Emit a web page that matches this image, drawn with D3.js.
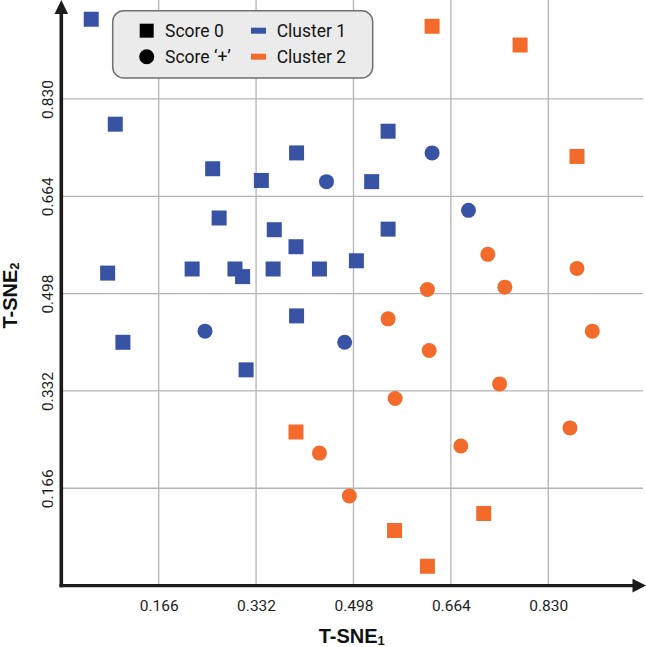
<!DOCTYPE html>
<html>
<head>
<meta charset="utf-8">
<script src="https://cdn.jsdelivr.net/npm/d3@7"></script>
<style>
  html, body { margin: 0; padding: 0; background: #fff; }
  svg { display: block; }
</style>
</head>
<body>
<svg id="chart" width="646" height="647"></svg>
<script>
// ---- Data ----
const tickValues = [0.166, 0.332, 0.498, 0.664, 0.830];
const tickLabels = ["0.166", "0.332", "0.498", "0.664", "0.830"];

const cluster1Score0 = [
  [0.051, 0.966], [0.092, 0.787], [0.258, 0.711], [0.341, 0.691], [0.401, 0.738],
  [0.557, 0.775], [0.529, 0.689], [0.269, 0.627], [0.363, 0.607], [0.400, 0.578],
  [0.557, 0.608], [0.079, 0.533], [0.223, 0.540], [0.296, 0.540], [0.309, 0.527],
  [0.361, 0.540], [0.440, 0.540], [0.503, 0.554], [0.401, 0.460], [0.105, 0.415],
  [0.315, 0.368]
];
const cluster1ScorePlus = [
  [0.452, 0.689], [0.632, 0.738], [0.694, 0.640], [0.245, 0.434], [0.483, 0.415]
];
const cluster2Score0 = [
  [0.632, 0.954], [0.782, 0.922], [0.879, 0.732], [0.400, 0.262], [0.720, 0.123],
  [0.568, 0.094], [0.624, 0.033]
];
const cluster2ScorePlus = [
  [0.727, 0.565], [0.624, 0.505], [0.756, 0.509], [0.879, 0.541], [0.557, 0.455],
  [0.627, 0.401], [0.905, 0.434], [0.747, 0.344], [0.569, 0.319], [0.867, 0.269],
  [0.681, 0.238], [0.440, 0.226], [0.491, 0.153]
];

const clusterNames = ["Cluster 1", "Cluster 2"];
const clusterColors = ["#3953a4", "#f26b2b"];
const scoreNames = ["Score 0", "Score \u2018+\u2019"];

// ---- Chart ----
const svg = d3.select("#chart");
const x = d3.scaleLinear().domain([0, 1]).range([61.3, 648.0]);
const y = d3.scaleLinear().domain([0, 1]).range([585.6, -0.7]);
const x0 = x(0), y0 = y(0);

// grid
const grid = svg.append("g");
grid.selectAll(".vg").data(tickValues).join("line")
  .attr("x1", d => x(d)).attr("x2", d => x(d))
  .attr("y1", 0).attr("y2", y0)
  .attr("stroke", "#b4b4b4").attr("stroke-width", 1.3);
grid.selectAll(".hg").data(tickValues).join("line")
  .attr("x1", x0).attr("x2", 643)
  .attr("y1", d => y(d)).attr("y2", d => y(d))
  .attr("stroke", "#b4b4b4").attr("stroke-width", 1.3);

// points
const size = 15;
const groups = [
  { pts: cluster1Score0, c: 0, shape: "square" },
  { pts: cluster1ScorePlus, c: 0, shape: "circle" },
  { pts: cluster2Score0, c: 1, shape: "square" },
  { pts: cluster2ScorePlus, c: 1, shape: "circle" }
];
const pg = svg.append("g");
groups.forEach(g => {
  if (g.shape === "square") {
    pg.selectAll(null).data(g.pts).join("rect")
      .attr("x", d => x(d[0]) - size / 2).attr("y", d => y(d[1]) - size / 2)
      .attr("width", size).attr("height", size)
      .attr("fill", clusterColors[g.c]);
  } else {
    pg.selectAll(null).data(g.pts).join("circle")
      .attr("cx", d => x(d[0])).attr("cy", d => y(d[1]))
      .attr("r", size / 2)
      .attr("fill", clusterColors[g.c]);
  }
});

// x axis tick labels via d3 axis
const xAxis = d3.axisBottom(x).tickValues(tickValues)
  .tickFormat((d, i) => tickLabels[i]).tickSize(0).tickPadding(14);
const gx = svg.append("g").attr("transform", `translate(0,${y0})`).call(xAxis);
gx.select(".domain").remove();
gx.selectAll("text").attr("font-family", "Roboto, sans-serif")
  .attr("font-size", 15.5).attr("fill", "#1e1e1e");

// y axis tick labels (rotated)
const yAxis = d3.axisLeft(y).tickValues(tickValues)
  .tickFormat((d, i) => tickLabels[i]).tickSize(0);
const gy = svg.append("g").attr("transform", `translate(${x0},0)`).call(yAxis);
gy.select(".domain").remove();
gy.selectAll(".tick text")
  .attr("x", null).attr("dy", null)
  .attr("text-anchor", "middle")
  .attr("transform", `translate(${52.5 - x0},0) rotate(-90)`)
  .attr("font-family", "Roboto, sans-serif")
  .attr("font-size", 15.5).attr("fill", "#1e1e1e");

// axis lines with arrows
const axisColor = "#1c1c1c";
svg.append("line").attr("x1", x0).attr("x2", x0).attr("y1", y0 + 1.7).attr("y2", 12)
  .attr("stroke", axisColor).attr("stroke-width", 3.6);
svg.append("path").attr("d", `M${x0},0 L${x0 - 6.8},14 L${x0 + 6.8},14 Z`).attr("fill", axisColor);
svg.append("line").attr("x1", x0 - 1.8).attr("x2", 636).attr("y1", y0).attr("y2", y0)
  .attr("stroke", axisColor).attr("stroke-width", 3.4);
svg.append("path").attr("d", `M646,${y0} L632.5,${y0 - 6.8} L632.5,${y0 + 6.8} Z`).attr("fill", axisColor);

// axis titles
const xt = svg.append("text").attr("x", 351.7).attr("y", 643.3)
  .attr("text-anchor", "middle")
  .attr("font-family", "'Liberation Sans', Arial, sans-serif")
  .attr("font-weight", "bold").attr("font-size", 20).attr("fill", "#111");
xt.append("tspan").text("T-SNE");
xt.append("tspan").attr("font-size", 13).attr("dy", 2).text("1");

const yt = svg.append("text")
  .attr("transform", "translate(17,295.5) rotate(-90)")
  .attr("text-anchor", "middle")
  .attr("font-family", "'Liberation Sans', Arial, sans-serif")
  .attr("font-weight", "bold").attr("font-size", 20).attr("fill", "#111");
yt.append("tspan").text("T-SNE");
yt.append("tspan").attr("font-size", 13).attr("dy", 2).text("2");

// legend
const lg = svg.append("g");
lg.append("rect").attr("x", 112.7).attr("y", 10.7).attr("width", 260).attr("height", 67.3)
  .attr("rx", 11).attr("fill", "#ebebeb").attr("stroke", "#707070").attr("stroke-width", 1.5);
const rowY = [30.7, 56.7];
lg.append("rect").attr("x", 146.7 - 7).attr("y", rowY[0] - 7).attr("width", 14).attr("height", 14).attr("fill", "#000");
lg.append("circle").attr("cx", 146.7).attr("cy", rowY[1]).attr("r", 7.5).attr("fill", "#000");
scoreNames.forEach((s, i) => {
  lg.append("text").attr("x", 165).attr("y", rowY[i] + 6.2)
    .attr("font-family", "Roboto, sans-serif").attr("font-size", 17.5).attr("fill", "#151515").text(s);
});
clusterNames.forEach((c, i) => {
  lg.append("rect").attr("x", 251).attr("y", rowY[i] - 3).attr("width", 15).attr("height", 6)
    .attr("fill", clusterColors[i]);
  lg.append("text").attr("x", 276.7).attr("y", rowY[i] + 6.2)
    .attr("font-family", "Roboto, sans-serif").attr("font-size", 17.5).attr("fill", "#151515").text(c);
});
</script>
</body>
</html>
